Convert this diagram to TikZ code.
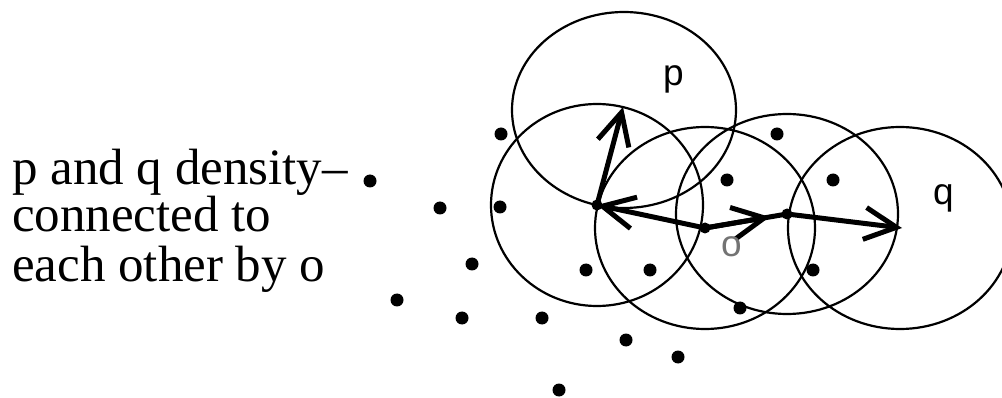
\documentclass[tikz,border=0pt]{standalone}
\usepackage{fontspec}
\setmainfont{Liberation Serif}
\newfontfamily\labfont{Liberation Sans}
\usetikzlibrary{arrows.meta,calc}
\begin{document}
\begin{tikzpicture}[x=1pt,y=-1pt,
  ring/.style={draw=black,line width=2.2pt},
  pt/.style={circle,fill=black,inner sep=0pt,minimum size=13pt},
  corept/.style={circle,fill=black,inner sep=0pt,minimum size=11pt},
  link/.style={line width=5pt},
  reach/.style={line width=5pt,-{Straight Barb[length=32pt,width=32pt]}},
  maintext/.style={anchor=base west,inner sep=0pt,font=\fontsize{51}{50}\selectfont},
  lab/.style={anchor=base west,inner sep=0pt,font=\labfont\fontsize{37}{37}\selectfont}]
\useasboundingbox (0,0) rectangle (1002,398);
% core points
\coordinate (p) at (623,107);
\coordinate (b) at (597,205);
\coordinate (o) at (705,228);
\coordinate (r) at (787,214);
\coordinate (q) at (902,228);
% neighbourhoods
\draw[ring] (624,110) ellipse [x radius=112, y radius=98];
\draw[ring] (b) ellipse [x radius=106, y radius=101];
\draw[ring] (o) ellipse [x radius=110, y radius=101];
\draw[ring] (r) ellipse [x radius=111, y radius=100];
\draw[ring] (900,228) ellipse [x radius=112, y radius=101];
% other points
\foreach \n/\x/\y in {d1/370/181,d2/440/208,d3/500/207,d4/501/134,d5/472/264,
  d6/397/300,d7/462/318,d8/542/318,d9/586/270,d10/650/270,d11/626/340,
  d12/678/357,d13/559/390,d14/740/308,d15/777/134,d16/727/180,d17/833/180,d18/813/270}
  \node[pt] (\n) at (\x,\y) {};
% core point dots
\node[corept] (bdot) at (b) {};
\node[corept] (odot) at (o) {};
\node[corept] (rdot) at (r) {};
% density-reachability chain
\coordinate (rtip) at ($(o)!0.79!(r)$);
\draw[reach] (b) -- (p);
\draw[reach] (o) -- (b);
\draw[link] (o) -- (r);
\draw[reach] (o) -- (rtip);
\draw[reach] (r) -- (q);
% labels
\node[lab] (plab) at (663,86) {p};
\node[lab] (qlab) at (933,205) {q};
\node[lab,text=black!55] (olab) at (721,257) {o};
\node[maintext] (t1) at (12,185) {p and q density–};
\node[maintext] (t2) at (12,232) {connected to};
\node[maintext] (t3) at (12,282) {each other by o};
\end{tikzpicture}
\end{document}
